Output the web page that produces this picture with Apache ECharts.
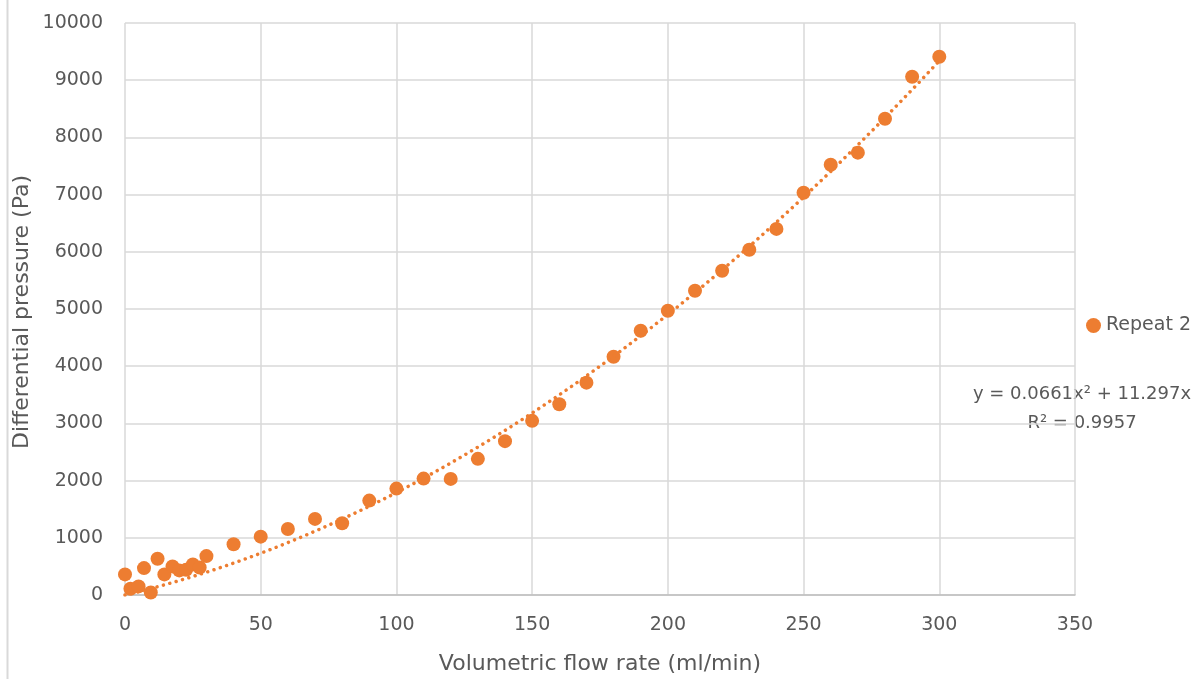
<!DOCTYPE html>
<html>
<head>
<meta charset="utf-8">
<style>
  html, body { margin: 0; padding: 0; background: #ffffff; }
  #chart { width: 1203px; height: 679px; }
</style>
<script src="https://cdn.jsdelivr.net/npm/echarts@6/dist/echarts.min.js"></script>
</head>
<body>
<div id="chart"></div>
<script>
// Data
const flowRate = [0, 2, 5, 7, 9.5, 12, 14.5, 17.5, 20, 22.5, 25, 27.5, 30,
  40, 50, 60, 70, 80, 90, 100, 110, 120, 130, 140, 150, 160, 170, 180, 190,
  200, 210, 220, 230, 240, 250, 260, 270, 280, 290, 300];
const pressure = [360, 110, 150, 470, 45, 635, 360, 500, 430, 440, 535, 480, 680,
  886, 1020, 1155, 1330, 1255, 1650, 1860, 2035, 2030, 2380, 2690, 3045, 3335, 3712, 4166, 4620,
  4970, 5320, 5670, 6035, 6400, 7033, 7523, 7733, 8327, 9061, 9411];
// Trendline coefficients as printed on the chart: y = a*x^2 + b*x
const trendCoeffs = [0.0661, 11.297];
const trendLabel = ['y = 0.0661x² + 11.297x', 'R² = 0.9957'];
const seriesName = 'Repeat 2';
const xTicks = [0, 50, 100, 150, 200, 250, 300, 350];
const yTicks = [0, 1000, 2000, 3000, 4000, 5000, 6000, 7000, 8000, 9000, 10000];

const points = flowRate.map((x, i) => [x, pressure[i]]);
const xMin = Math.min(...flowRate), xMax = Math.max(...flowRate);
const trend = [];
for (let k = 0; k <= 150; k++) {
  const x = xMin + (xMax - xMin) * k / 150;
  trend.push([x, trendCoeffs[0] * x * x + trendCoeffs[1] * x]);
}

const FONT = '"DejaVu Sans", sans-serif';
const TXT = '#595959';
const ORANGE = '#ED7D31';

const chart = echarts.init(document.getElementById('chart'), null, { renderer: 'canvas' });
chart.setOption({
  animation: false,
  backgroundColor: '#ffffff',
  grid: { left: 125, right: 128, top: 23, bottom: 84, outerBoundsMode: 'none', containLabel: false },
  xAxis: {
    type: 'value', min: xTicks[0], max: xTicks[xTicks.length - 1], interval: xTicks[1] - xTicks[0],
    axisLine: { show: true, lineStyle: { color: '#bfbfbf', width: 1.5 } },
    axisTick: { show: false },
    axisLabel: { color: TXT, fontFamily: FONT, fontSize: 19, margin: 21, formatter: v => String(v) },
    splitLine: { show: true, lineStyle: { color: '#d9d9d9', width: 1.5 } }
  },
  yAxis: {
    type: 'value', min: yTicks[0], max: yTicks[yTicks.length - 1], interval: yTicks[1] - yTicks[0],
    axisLine: { show: false },
    axisTick: { show: false },
    axisLabel: { color: TXT, fontFamily: FONT, fontSize: 19, margin: 22, formatter: v => String(v) },
    splitLine: { show: true, lineStyle: { color: '#d9d9d9', width: 1.5 } }
  },
  legend: {
    show: true, data: [{ name: seriesName, icon: 'circle' }],
    left: 1086, top: 316, padding: 0, itemWidth: 15, itemHeight: 15, itemGap: 6,
    textStyle: { color: TXT, fontFamily: FONT, fontSize: 19 }
  },
  series: [
    {
      name: seriesName, type: 'scatter', data: points,
      symbol: 'circle', symbolSize: 14,
      itemStyle: { color: ORANGE, opacity: 1 },
      z: 2
    },
    {
      name: 'trend', type: 'line', data: trend, showSymbol: false, smooth: false,
      lineStyle: { color: ORANGE, width: 3.5, type: [0.01, 6.6], cap: 'round' },
      silent: true, z: 3
    }
  ],
  graphic: [
    { type: 'line', shape: { x1: 7.5, y1: 0, x2: 7.5, y2: 679 }, style: { stroke: '#d9d9d9', lineWidth: 2 } },
    { type: 'text', x: 600, y: 664, style: { text: 'Volumetric flow rate (ml/min)', fill: TXT, font: '22px ' + FONT, textAlign: 'center', textVerticalAlign: 'middle' } },
    { type: 'text', x: 22, y: 312, rotation: Math.PI / 2, style: { text: 'Differential pressure (Pa)', fill: TXT, font: '22px ' + FONT, textAlign: 'center', textVerticalAlign: 'middle' } },
    { type: 'text', x: 1082, y: 394, style: { text: trendLabel[0], fill: TXT, font: '18px ' + FONT, textAlign: 'center', textVerticalAlign: 'middle' } },
    { type: 'text', x: 1082, y: 423, style: { text: trendLabel[1], fill: TXT, font: '18px ' + FONT, textAlign: 'center', textVerticalAlign: 'middle' } }
  ]
});
</script>
</body>
</html>
